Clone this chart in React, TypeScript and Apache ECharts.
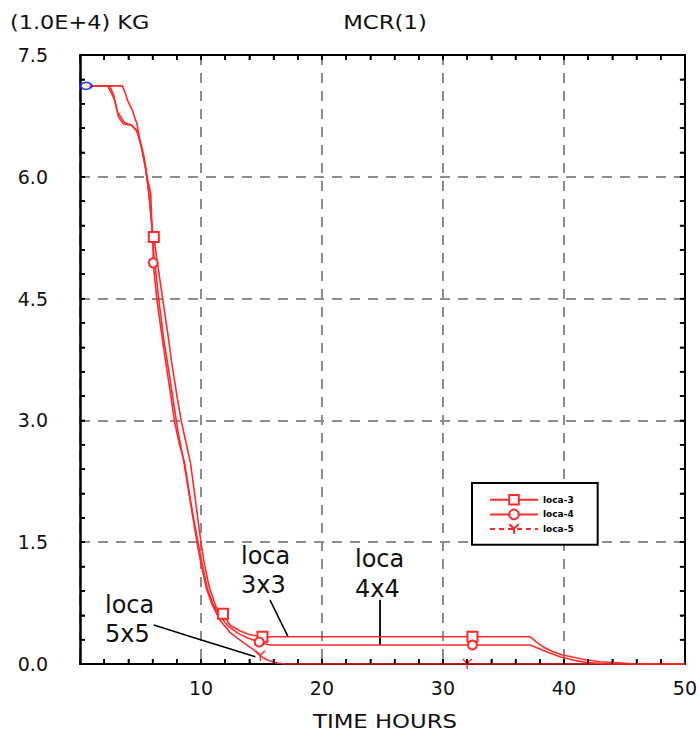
import React, { useEffect, useRef } from "react";
import * as echarts from "echarts";

// ---- axis ranges / ticks ----
const xTicks = [0, 10, 20, 30, 40, 50];
const yTicks = [0, 1.5, 3.0, 4.5, 6.0, 7.5];
const xMinorStep = 2;
const yMinorStep = 0.3;

// ---- series names ----
const seriesNames = ["loca-3", "loca-4", "loca-5"];

// ---- loca-3 (squares) ----
const loca3X = [0.5, 3.5, 3.75, 3.9, 4.32, 4.73, 4.89, 5.3, 5.54, 5.84, 5.95, 6.1, 6.36, 6.85, 7.33, 7.58, 8.07, 8.39, 8.8, 9.13, 9.54, 9.78, 10.02, 10.27, 10.68, 11.25, 11.82, 12.39, 13.2, 14.02, 15.08, 32.44, 37.22, 37.73, 38.3, 39.1, 39.9, 40.7, 41.8, 42.95, 44.8, 46.0, 50];
const loca3Y = [7.12, 7.12, 7.03, 6.95, 6.82, 6.64, 6.49, 6.24, 6.0, 5.8, 5.38, 5.26, 4.98, 4.48, 3.99, 3.71, 3.25, 2.98, 2.7, 2.48, 2.02, 1.74, 1.48, 1.24, 0.95, 0.7, 0.62, 0.48, 0.41, 0.36, 0.335, 0.335, 0.335, 0.27, 0.21, 0.15, 0.11, 0.086, 0.053, 0.028, 0.012, 0, 0];
const loca3Marks = [6.1, 11.82, 15.08, 32.44];

// ---- loca-4 (circles) ----
const loca4X = [0.5, 2.28, 2.6, 2.85, 3.18, 3.59, 4.21, 4.65, 5.05, 5.38, 5.62, 5.87, 6.03, 6.05, 6.36, 6.76, 7.09, 7.5, 7.82, 8.23, 8.64, 9.13, 9.45, 9.78, 10.11, 10.51, 11.0, 11.57, 12.22, 13.04, 13.85, 14.81, 15.65, 32.44, 37.22, 38.55, 39.67, 40.75, 41.8, 43.44, 50];
const loca4Y = [7.12, 7.12, 7.03, 6.95, 6.74, 6.65, 6.64, 6.58, 6.39, 6.15, 5.9, 5.53, 5.22, 4.94, 4.48, 4.05, 3.71, 3.31, 2.98, 2.7, 2.48, 2.02, 1.74, 1.48, 1.22, 0.94, 0.73, 0.59, 0.47, 0.38, 0.32, 0.27, 0.234, 0.234, 0.234, 0.15, 0.09, 0.05, 0.02, 0, 0];
const loca4Marks = [6.05, 14.81, 32.44];

// ---- loca-5 (tri markers) ----
const loca5X = [0.5, 2.45, 2.77, 3.1, 3.67, 4.32, 4.81, 5.13, 5.46, 5.7, 5.95, 6.11, 6.52, 6.93, 7.33, 7.82, 8.15, 8.56, 8.96, 9.37, 9.7, 10.02, 10.43, 10.92, 11.57, 12.39, 13.45, 14.4, 14.91, 15.48, 16.3, 16.87, 32.0, 50];
const loca5Y = [7.12, 7.12, 7.01, 6.8, 6.67, 6.63, 6.54, 6.33, 6.06, 5.78, 5.37, 5.04, 4.48, 3.99, 3.62, 3.13, 2.82, 2.51, 2.14, 1.77, 1.47, 1.22, 0.94, 0.73, 0.54, 0.39, 0.27, 0.17, 0.1, 0.05, 0.012, 0, 0, 0];
const loca5Marks = [14.91, 32.0];

// ---- start marker ----
const startX = [0.5];
const startY = [7.12];

// ---- annotation pointers (data coordinates) ----
const ptr3x3X = [15.7, 17.2];
const ptr3x3Y = [0.79, 0.335];
const ptr4x4X = [24.8, 24.8];
const ptr4x4Y = [0.79, 0.234];
const ptr5x5X = [6.1, 9.5, 14.5];
const ptr5x5Y = [0.48, 0.32, 0.09];

const annotations = [
  { lines: ["loca", "3x3"] },
  { lines: ["loca", "4x4"] },
  { lines: ["loca", "5x5"] },
];

const RED = "#ff2a2a";
const FONT = "DejaVu Sans";

function withMarks(xs: number[], ys: number[], marks: number[]) {
  return xs.map((x, i) =>
    marks.includes(x) ? { value: [x, ys[i]] } : { value: [x, ys[i]], symbol: "none" }
  );
}

function pairs(xs: number[], ys: number[]) {
  return xs.map((x, i) => [x, ys[i]]);
}

function axisBase(lineWidth: number) {
  return {
    type: "value",
    axisLine: { show: true, onZero: false, lineStyle: { color: "#000", width: lineWidth } },
    axisTick: { show: true, inside: true, length: 5, lineStyle: { color: "#000", width: 1.5 } },
    minorTick: { show: true, splitNumber: 5, length: 5, lineStyle: { color: "#000", width: 1.5 } },
  };
}

function gridSplit() {
  return { show: true, lineStyle: { color: "#8c8c8c", width: 2, type: [10, 8] } };
}

export default function App() {
  const ref = useRef<HTMLDivElement>(null);

  useEffect(() => {
    if (!ref.current) return;
    const chart = echarts.init(ref.current, null, { renderer: "svg" });

    const xMin = xTicks[0];
    const xMax = xTicks[xTicks.length - 1];
    const xStep = xTicks[1] - xTicks[0];
    const yMin = yTicks[0];
    const yMax = yTicks[yTicks.length - 1];
    const yStep = yTicks[1] - yTicks[0];

    // tick marks on all four frame sides: [x, y, direction]
    const tickData: number[][] = [];
    const nx = Math.round((xMax - xMin) / xMinorStep);
    for (let i = 1; i < nx; i++) {
      const v = xMin + i * xMinorStep;
      tickData.push([v, yMin, 0]);
      tickData.push([v, yMax, 1]);
    }
    const ny = Math.round((yMax - yMin) / yMinorStep);
    for (let i = 1; i < ny; i++) {
      const v = +(yMin + i * yMinorStep).toFixed(2);
      tickData.push([xMin, v, 2]);
      tickData.push([xMax, v, 3]);
    }
    const TL = 5;
    const dirs = [
      [0, -TL],
      [0, TL],
      [TL, 0],
      [-TL, 0],
    ];

    const annPos = [
      { x: 241, y1: 556, y2: 585 },
      { x: 355, y1: 559, y2: 589 },
      { x: 105, y1: 605, y2: 634 },
    ];

    const graphicTexts: any[] = [];
    annotations.forEach((a, i) => {
      graphicTexts.push({
        type: "text",
        x: annPos[i].x,
        y: annPos[i].y1,
        style: { text: a.lines[0], font: `24px "${FONT}"`, fill: "#111", textVerticalAlign: "middle" },
      });
      graphicTexts.push({
        type: "text",
        x: annPos[i].x,
        y: annPos[i].y2,
        style: { text: a.lines[1], font: `24px "${FONT}"`, fill: "#111", textVerticalAlign: "middle" },
      });
    });

    const option: any = {
      animation: false,
      backgroundColor: "#fff",
      grid: { left: 80, top: 55, right: 7, bottom: 78 },
      xAxis: [
        {
          ...axisBase(2),
          position: "bottom",
          min: xMin,
          max: xMax,
          interval: xStep,
          axisLabel: {
            show: true,
            color: "#111",
            fontFamily: FONT,
            fontSize: 19,
            margin: 14,
            formatter: (v: number) => (v === xMin ? "" : String(v)),
          },
          splitLine: gridSplit(),
        },
        {
          ...axisBase(2),
          position: "top",
          min: xMin,
          max: xMax,
          interval: xStep,
          axisLabel: { show: false },
          splitLine: { show: false },
        },
      ],
      yAxis: [
        {
          ...axisBase(2.5),
          position: "left",
          min: yMin,
          max: yMax,
          interval: yStep,
          axisLabel: {
            show: true,
            color: "#111",
            fontFamily: FONT,
            fontSize: 19,
            margin: 32,
            formatter: (v: number) => v.toFixed(1),
          },
          splitLine: gridSplit(),
        },
        {
          ...axisBase(2),
          position: "right",
          min: yMin,
          max: yMax,
          interval: yStep,
          axisLabel: { show: false },
          splitLine: { show: false },
        },
      ],
      legend: {
        orient: "vertical",
        left: 472,
        top: 483,
        backgroundColor: "#fff",
        borderColor: "#000",
        borderWidth: 2,
        borderRadius: 0,
        padding: [11, 24, 10, 17],
        itemWidth: 48,
        itemHeight: 12,
        itemGap: 3,
        textStyle: { fontSize: 9, fontWeight: "bold", color: "#000", fontFamily: FONT },
        data: [
          { name: seriesNames[0] },
          { name: seriesNames[1] },
          { name: seriesNames[2], lineStyle: { type: [5, 4] } },
        ],
      },
      graphic: [
        {
          type: "text",
          x: 10,
          y: 22,
          scaleX: 1.12,
          style: { text: "(1.0E+4) KG", font: `20px "${FONT}"`, fill: "#111", textAlign: "left", textVerticalAlign: "middle" },
        },
        {
          type: "text",
          x: 385,
          y: 22,
          scaleX: 1.14,
          style: { text: "MCR(1)", font: `20px "${FONT}"`, fill: "#111", textAlign: "center", textVerticalAlign: "middle" },
        },
        {
          type: "text",
          x: 385,
          y: 721,
          scaleX: 1.14,
          style: { text: "TIME HOURS", font: `20px "${FONT}"`, fill: "#111", textAlign: "center", textVerticalAlign: "middle" },
        },
        ...graphicTexts,
      ],
      series: [
        {
          name: "frameTicks",
          type: "custom",
          silent: true,
          clip: false,
          z: 5,
          data: tickData,
          renderItem: (params: any, api: any) => {
            const p = api.coord([api.value(0), api.value(1)]);
            const d = dirs[api.value(2)];
            return {
              type: "line",
              shape: { x1: p[0], y1: p[1], x2: p[0] + d[0], y2: p[1] + d[1] },
              style: { stroke: "#000", lineWidth: 1.5 },
            };
          },
        },
        {
          name: seriesNames[0],
          type: "line",
          data: withMarks(loca3X, loca3Y, loca3Marks),
          symbol: "emptyRect",
          symbolSize: 10,
          showSymbol: true,
          showAllSymbol: true,
          lineStyle: { color: RED, width: 1.6 },
          itemStyle: { color: RED, borderWidth: 1.5 },
          z: 3,
        },
        {
          name: seriesNames[1],
          type: "line",
          data: withMarks(loca4X, loca4Y, loca4Marks),
          symbol: "emptyCircle",
          symbolSize: 9,
          showSymbol: true,
          showAllSymbol: true,
          lineStyle: { color: RED, width: 1.6 },
          itemStyle: { color: RED, borderWidth: 1.5 },
          z: 3,
        },
        {
          name: seriesNames[2],
          type: "line",
          data: withMarks(loca5X, loca5Y, loca5Marks),
          symbol: "path://M0,0 L5,5 L10,0 M5,5 L5,11",
          symbolSize: [9, 10],
          showSymbol: true,
          showAllSymbol: true,
          lineStyle: { color: RED, width: 1.6 },
          itemStyle: { color: "rgba(255,255,255,0)", borderColor: RED, borderWidth: 1.5 },
          z: 3,
        },
        {
          name: "start",
          type: "scatter",
          data: pairs(startX, startY),
          symbol: "emptyCircle",
          symbolSize: [11, 7],
          itemStyle: { color: "#1010ff", borderWidth: 1.5 },
          z: 4,
        },
        {
          name: "ptr3x3",
          type: "line",
          data: pairs(ptr3x3X, ptr3x3Y),
          symbol: "none",
          lineStyle: { color: "#000", width: 1.5 },
          z: 2,
        },
        {
          name: "ptr4x4",
          type: "line",
          data: pairs(ptr4x4X, ptr4x4Y),
          symbol: "none",
          lineStyle: { color: "#000", width: 1.8 },
          z: 2,
        },
        {
          name: "ptr5x5",
          type: "line",
          data: pairs(ptr5x5X, ptr5x5Y),
          symbol: "none",
          lineStyle: { color: "#000", width: 1.5 },
          z: 2,
        },
      ],
    };

    chart.setOption(option);
    return () => chart.dispose();
  }, []);

  return (
    <div
      ref={ref}
      style={{ position: "fixed", left: 0, top: 0, width: 700, height: 742, background: "#fff" }}
    />
  );
}
